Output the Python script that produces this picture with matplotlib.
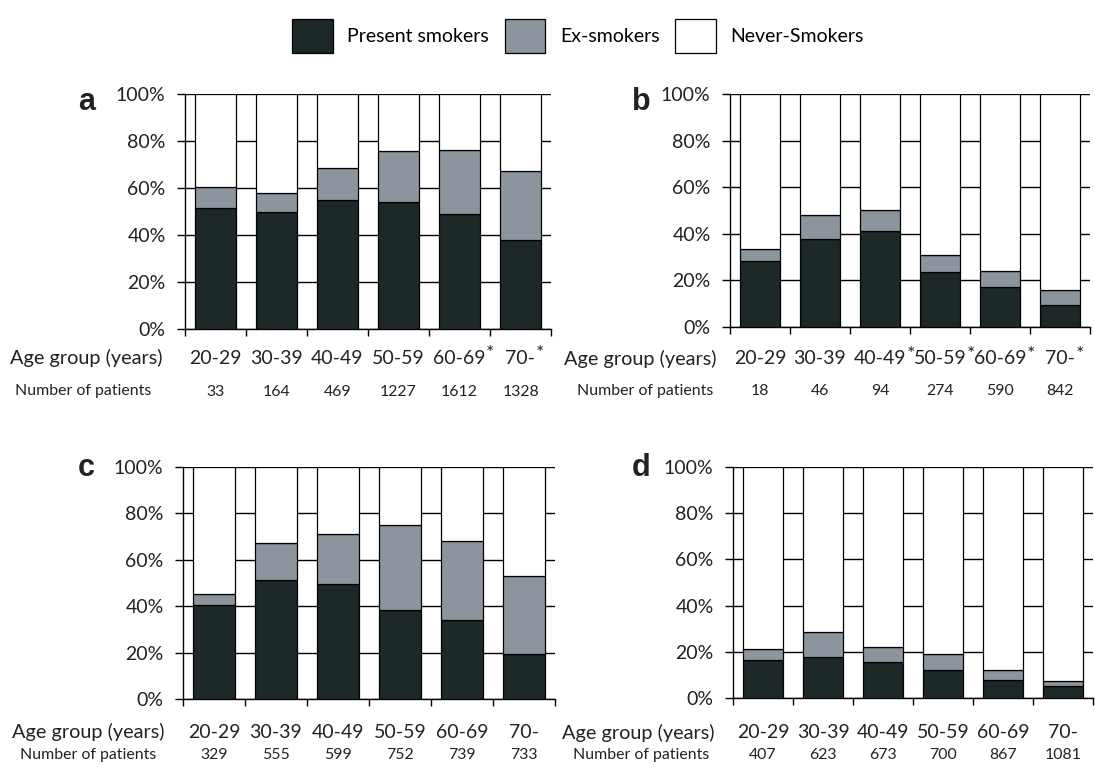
import matplotlib
matplotlib.use("Agg")
import matplotlib.pyplot as plt
from matplotlib.patches import Patch

plt.rcParams['font.family'] = ['Lato', 'DejaVu Sans']

# Data (percent of patients)
age_groups = ['20-29', '30-39', '40-49', '50-59', '60-69', '70-']

present_a = [51.7, 49.7, 55.0, 54.2, 49.0, 37.7]
ex_a = [8.6, 8.1, 13.4, 21.7, 27.3, 29.4]
patients_a = [33, 164, 469, 1227, 1612, 1328]
star_a = [False, False, False, False, True, True]

present_b = [28.2, 37.7, 41.0, 23.6, 17.2, 9.6]
ex_b = [5.2, 10.3, 9.1, 7.5, 7.0, 6.3]
patients_b = [18, 46, 94, 274, 590, 842]
star_b = [False, False, True, True, True, True]

present_c = [40.4, 51.3, 49.4, 38.5, 33.9, 19.4]
ex_c = [4.9, 15.9, 21.9, 36.4, 34.2, 33.5]
patients_c = [329, 555, 599, 752, 739, 733]
star_c = [False] * 6

present_d = [16.5, 17.6, 15.4, 12.1, 7.8, 5.2]
ex_d = [4.7, 11.1, 6.8, 6.8, 4.5, 2.3]
patients_d = [407, 623, 673, 700, 867, 1081]
star_d = [False] * 6

DARK = '#1d2828'
GREY = '#8c959e'
TXT = '#222222'

W, H = 1095, 767
fig = plt.figure(figsize=(W / 100, H / 100), dpi=100)


def px_axes(left, top, right, bottom):
    return fig.add_axes([left / W, 1 - bottom / H, (right - left) / W, (bottom - top) / H])


# name, axes, data..., letter position (px), row y offsets (pt), row title x offsets (pt)
panels = [
    ('a', px_axes(185, 94, 551, 329), present_a, ex_a, patients_a, star_a,
     (78, 110), (-21, -45), (-16, -24)),
    ('b', px_axes(730, 94, 1090, 327), present_b, ex_b, patients_b, star_b,
     (632, 110), (-23, -46), (-9.5, -12)),
    ('c', px_axes(183, 467, 555, 699), present_c, ex_c, patients_c, star_c,
     (78, 476), (-24, -40), (-13, -19)),
    ('d', px_axes(733, 467, 1093, 698), present_d, ex_d, patients_d, star_d,
     (632, 476), (-25, -41), (-13, -17)),
]

label_texts = []
for name, ax, present, ex, patients, stars, lab_pos, offs, xoffs in panels:
    x = [i + 0.5 for i in range(len(age_groups))]
    never = [100 - p - e for p, e in zip(present, ex)]
    kw = dict(width=0.67, edgecolor='black', linewidth=0.9, zorder=3)
    ax.bar(x, present, color=DARK, **kw)
    ax.bar(x, ex, bottom=present, color=GREY, **kw)
    ax.bar(x, never, bottom=[p + e for p, e in zip(present, ex)], color='white', **kw)

    ax.set_xlim(0, 6)
    ax.set_ylim(0, 100)
    ax.set_yticks([0, 20, 40, 60, 80, 100])
    ax.set_yticklabels(['0%', '20%', '40%', '60%', '80%', '100%'], fontsize=14, color=TXT)
    ax.set_xticks(range(7))
    ax.set_xticklabels([])
    ax.tick_params(axis='y', length=6, width=1, pad=8)
    ax.tick_params(axis='x', length=5, width=1)
    ax.yaxis.grid(True, color='black', linewidth=1.0)
    ax.set_axisbelow(True)
    for s in ['top', 'right']:
        ax.spines[s].set_visible(False)
    for s in ['left', 'bottom']:
        ax.spines[s].set_linewidth(1.0)

    # row titles
    ax.annotate('Age group (years)', xy=(0, 0), xycoords='axes fraction',
                xytext=(xoffs[0], offs[0]), textcoords='offset points',
                ha='right', va='center', fontsize=14.3, color=TXT)
    ax.annotate('Number of patients', xy=(0, 0), xycoords='axes fraction',
                xytext=(xoffs[1], offs[1]), textcoords='offset points',
                ha='right', va='center', fontsize=11.4, color=TXT)
    for xi, g, n, st in zip(x, age_groups, patients, stars):
        t = ax.annotate(g, xy=(xi, 0), xycoords=('data', 'axes fraction'),
                        xytext=(0, offs[0]), textcoords='offset points',
                        ha='center', va='center', fontsize=14, color=TXT)
        if st:
            label_texts.append(t)
        ax.annotate(str(n), xy=(xi, 0), xycoords=('data', 'axes fraction'),
                    xytext=(0, offs[1]), textcoords='offset points',
                    ha='center', va='center', fontsize=11.4, color=TXT)

    fig.text(lab_pos[0] / W, 1 - lab_pos[1] / H, name, fontsize=22, fontweight='bold',
             family='Liberation Sans', ha='left', va='baseline', color=TXT)

# asterisks placed at the upper right of their labels
fig.canvas.draw()
for t in label_texts:
    bb = t.get_window_extent()
    fig.text((bb.x1 + 0.5) / W, (bb.y1 - 4) / H, '*', fontsize=14, ha='left', va='center',
             color=TXT)

handles = [Patch(facecolor=DARK, edgecolor='black', linewidth=0.9),
           Patch(facecolor=GREY, edgecolor='black', linewidth=0.9),
           Patch(facecolor='white', edgecolor='black', linewidth=0.9)]
fig.legend(handles, ['Present smokers', 'Ex-smokers', 'Never-Smokers'],
           loc='center', bbox_to_anchor=(578 / W, 1 - 36 / H), ncol=3, frameon=False,
           fontsize=14, handlelength=2.1, handleheight=2.3, handletextpad=0.75,
           columnspacing=0.8)

fig.savefig('out.png', dpi=100)
